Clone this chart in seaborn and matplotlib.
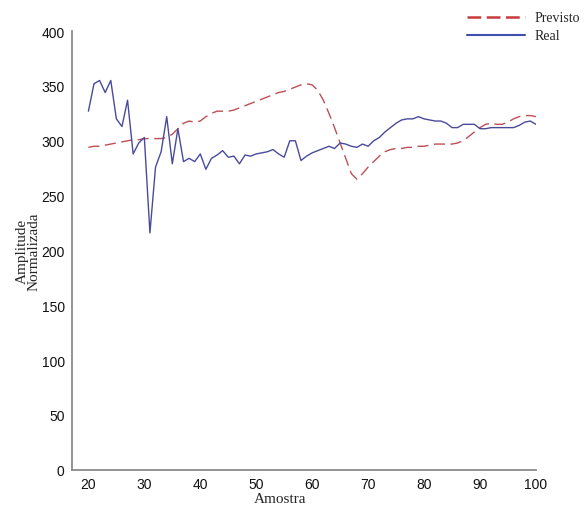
import numpy as np
import pandas as pd
import matplotlib
matplotlib.use("Agg")
import matplotlib.pyplot as plt
import seaborn as sns
from matplotlib.lines import Line2D

amostra = list(range(20, 101))

real = [327, 352, 355, 344, 355, 320, 313, 337, 288, 298,
        303, 216, 276, 290, 322, 279, 311, 281, 284, 281,
        288, 274, 284, 287, 291, 285, 286, 279, 287, 286,
        288, 289, 290, 292, 288, 285, 300, 300, 282, 286,
        289, 291, 293, 295, 293, 298, 297, 295, 294, 297,
        295, 300, 303, 308, 312, 316, 319, 320, 320, 322,
        320, 319, 318, 318, 316, 312, 312, 315, 315, 315,
        311, 311, 312, 312, 312, 312, 312, 314, 317, 318,
        315]

previsto = [294, 295, 295, 296, 297, 298, 299, 300, 301, 301,
            302, 302, 302, 302, 303, 306, 311, 316, 318, 317,
            318, 322, 325, 327, 327, 327, 328, 330, 332, 334,
            336, 338, 340, 342, 344, 345, 347, 349, 351, 352,
            351, 346, 337, 325, 312, 298, 284, 270, 265, 270,
            276, 281, 286, 290, 292, 293, 293, 294, 294, 295,
            295, 296, 297, 297, 297, 297, 298, 300, 304, 308,
            312, 315, 316, 315, 315, 317, 320, 322, 323, 323,
            322]

series_names = ["Previsto", "Real"]
x_ticks = [20, 30, 40, 50, 60, 70, 80, 90, 100]
y_ticks = [0, 50, 100, 150, 200, 250, 300, 350, 400]

df = pd.DataFrame({
    "Amostra": amostra * 2,
    "valor": previsto + real,
    "serie": [series_names[0]] * len(amostra) + [series_names[1]] * len(amostra),
})

sns.set_style("white")
plt.rcParams["font.family"] = ["Liberation Sans", "DejaVu Sans"]

fig = plt.figure(figsize=(5.87, 5.10), dpi=100)
ax = fig.add_axes([0.122, 0.077, 0.791, 0.860])

colors = {"Previsto": "#bd4f55", "Real": "#4a4a9c"}
sns.lineplot(data=df, x="Amostra", y="valor", hue="serie", style="serie",
             palette=colors,
             dashes={"Previsto": (8, 4), "Real": ""},
             linewidth=1.0, ax=ax, legend=False)

ax.set_xlim(17, 100)
ax.set_ylim(0, 400)
ax.set_xticks(x_ticks)
ax.set_yticks(y_ticks)
ax.tick_params(axis="both", direction="in", length=4, width=1,
               color="#808080", labelsize=10, labelcolor="#111111", pad=5)

for s in ["top", "right"]:
    ax.spines[s].set_visible(False)
for s in ["left", "bottom"]:
    ax.spines[s].set_color("#8a8a8a")
    ax.spines[s].set_linewidth(1.3)

serif = ["Liberation Serif", "DejaVu Serif"]
ax.set_xlabel("Amostra", family=serif, fontsize=11)
ax.xaxis.set_label_coords(0.449, -0.05)
ax.set_ylabel("Amplitude\nNormalizada", family=serif, fontsize=11, linespacing=0.95)
ax.yaxis.set_label_coords(-0.066, 0.5)

handles = [Line2D([], [], color="#c83a3a", lw=1.8, dashes=(5.5, 2.2)),
           Line2D([], [], color="#3f4fb0", lw=1.5)]
leg = fig.legend(handles, series_names, loc="upper right",
                 bbox_to_anchor=(1.01, 1.0), frameon=False,
                 prop={"family": serif, "size": 10},
                 handlelength=4.2, labelspacing=0.35, handletextpad=0.7)

fig.savefig("out.png", dpi=100)
